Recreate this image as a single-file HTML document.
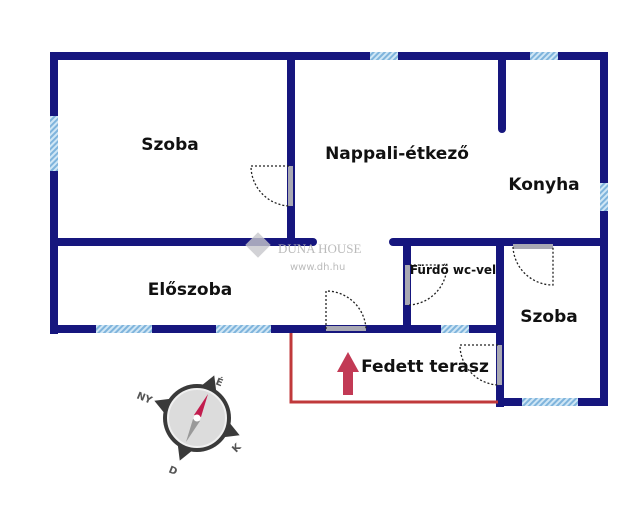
<!DOCTYPE html>
<html><head><meta charset="utf-8"><style>
html,body{margin:0;padding:0;background:#fff;width:640px;height:508px;overflow:hidden}
svg{display:block}
text{font-family:"DejaVu Sans","Liberation Sans",sans-serif;font-weight:bold;fill:#111}
</style></head><body>
<svg width="640" height="508" viewBox="0 0 640 508">
<defs>
<pattern id="h" width="4" height="4" patternUnits="userSpaceOnUse" patternTransform="rotate(45)">
<rect width="4" height="4" fill="#cfe6f5"/><rect width="2" height="4" fill="#7fb4dc"/></pattern>
</defs>
<g stroke="#16167e" stroke-width="8" fill="none" stroke-linecap="square">
<polyline points="54,330 54,56 604,56 604,402 500,402"/>
<line x1="291" y1="56" x2="291" y2="242"/>
<line x1="54" y1="242" x2="313" y2="242" stroke-linecap="round"/>
<line x1="393" y1="242" x2="604" y2="242" stroke-linecap="round"/>
<line x1="502" y1="56" x2="502" y2="129" stroke-linecap="round"/>
<line x1="54" y1="329" x2="500" y2="329"/>
<line x1="407" y1="242" x2="407" y2="329"/>
<line x1="500" y1="242" x2="500" y2="403"/>
</g>
<polyline points="291,333 291,402 498,402" stroke="#c0393b" stroke-width="3" fill="none"/>
<g fill="url(#h)">
<rect x="50" y="116" width="8" height="55"/>
<rect x="370" y="52" width="28" height="8"/>
<rect x="530" y="52" width="28" height="8"/>
<rect x="600" y="183" width="8" height="28"/>
<rect x="96" y="325" width="56" height="8"/>
<rect x="216" y="325" width="55" height="8"/>
<rect x="441" y="325" width="28" height="8"/>
<rect x="522" y="398" width="56" height="8"/>
</g>
<g fill="#a9a9b3">
<rect x="288" y="166" width="5" height="40"/>
<rect x="326" y="326" width="40" height="5"/>
<rect x="405" y="265" width="5" height="40"/>
<rect x="513" y="244" width="40" height="5"/>
<rect x="497" y="345" width="5" height="40"/>
</g>
<g stroke="#222" stroke-width="1.3" stroke-dasharray="2,2" fill="none">
<path d="M289,166 H251 A40,40 0 0 0 289,206"/>
<path d="M326,329 V291 A40,40 0 0 1 366,329"/>
<path d="M409,305 A40,40 0 0 0 447,265 H409"/>
<path d="M513,247 A40,40 0 0 0 553,285 V247"/>
<path d="M498,345 H460 A40,40 0 0 0 498,385"/>
</g>
<g fill="#c8c8cc" opacity="0.8">
<rect x="249" y="236" width="18" height="18" transform="rotate(45 258 245)"/>
</g>
<text x="278" y="253" style="font-family:'Liberation Serif',serif;font-weight:normal;fill:#bbb;font-size:13px">DUNA HOUSE</text>
<text x="290" y="270" style="font-weight:normal;fill:#bbb;font-size:10px">www.dh.hu</text>
<text x="170" y="150" font-size="17" text-anchor="middle">Szoba</text>
<text x="397" y="159" font-size="17" text-anchor="middle">Nappali-étkező</text>
<text x="544" y="190" font-size="17" text-anchor="middle">Konyha</text>
<text x="190" y="295" font-size="17" text-anchor="middle">Előszoba</text>
<text x="453" y="274" font-size="12" text-anchor="middle">Fürdő wc-vel</text>
<text x="549" y="322" font-size="17" text-anchor="middle">Szoba</text>
<text x="425" y="372" font-size="17" text-anchor="middle">Fedett terasz</text>
<path d="M348,352 L359,372 L353,372 L353,395 L343,395 L343,372 L337,372 Z" fill="#c23a55"/>
<g transform="translate(197,418)">
<g fill="#3a3a3a">
<polygon points="0,-46 10,-28 -10,-28" transform="rotate(22)"/>
<polygon points="0,-46 10,-28 -10,-28" transform="rotate(112)"/>
<polygon points="0,-46 10,-28 -10,-28" transform="rotate(202)"/>
<polygon points="0,-46 10,-28 -10,-28" transform="rotate(292)"/>
</g>
<circle r="34" fill="#3a3a3a"/>
<circle r="29" fill="#dcdcdc" stroke="#f0f0f0" stroke-width="2"/>
<polygon points="11,-24 4,-1 -3,-3" fill="#c21d4e"/>
<polygon points="-11,24 -4,1 3,3" fill="#999"/>
<circle r="3.5" fill="#fff"/>
</g>
<g font-size="10" style="fill:#555">
<text x="215" y="384" style="fill:#555" transform="rotate(22 215 384)">É</text>
<text x="136" y="398" style="fill:#555" transform="rotate(22 136 398)">NY</text>
<text x="236" y="453" style="fill:#555" transform="rotate(-45 236 453)">K</text>
<text x="168" y="472" style="fill:#555" transform="rotate(22 168 472)">D</text>
</g>
</svg>
</body></html>
